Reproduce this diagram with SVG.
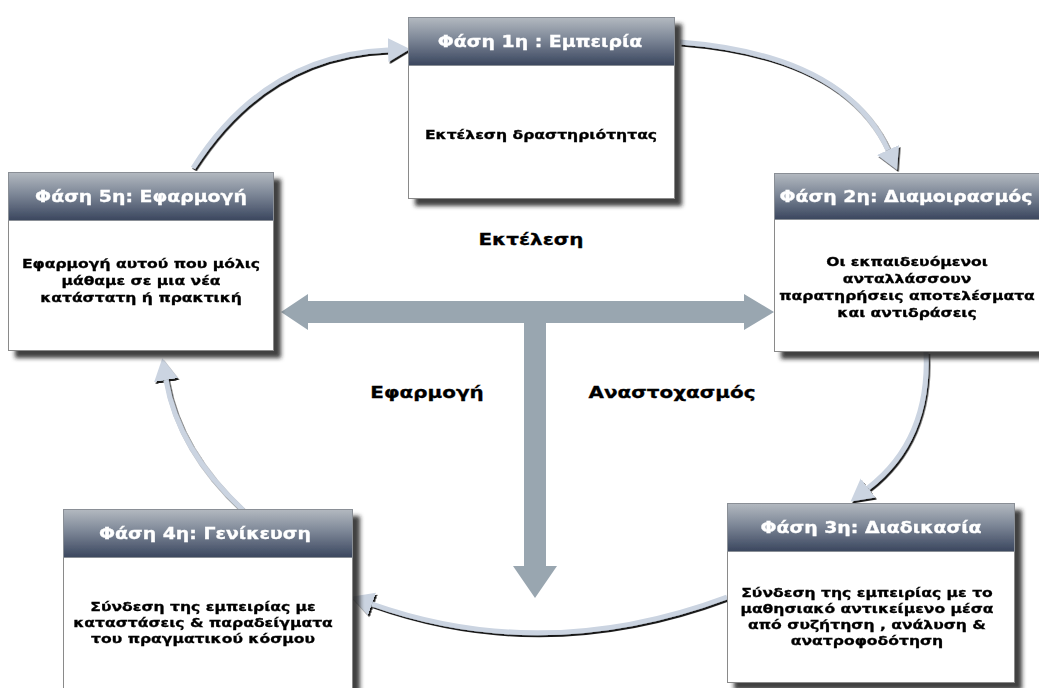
<svg xmlns="http://www.w3.org/2000/svg" width="1039" height="688" viewBox="0 0 1039 688">
  <defs>
    <linearGradient id="hdr" x1="0" y1="0" x2="0" y2="1">
      <stop offset="0" stop-color="#b3b9c0"/>
      <stop offset="0.45" stop-color="#7d8797"/>
      <stop offset="1" stop-color="#3a465e"/>
    </linearGradient>
    <filter id="boxShadow" x="-10%" y="-10%" width="125%" height="125%">
      <feDropShadow dx="7" dy="7" stdDeviation="2" flood-color="#1c1c1c" flood-opacity="0.85"/>
    </filter>
    <filter id="arcShadow" x="-20%" y="-20%" width="140%" height="140%">
      <feDropShadow dx="1.5" dy="2" stdDeviation="0.6" flood-color="#000" flood-opacity="0.9"/>
    </filter>
    <marker id="arcHead" markerUnits="userSpaceOnUse" markerWidth="24" markerHeight="26" viewBox="0 0 24 26" refX="0" refY="13" orient="auto">
      <path d="M0,1 L22,13 L0,25 Z" fill="#cbd4e1"/>
    </marker>
    <style>
      .hdr { fill: url(#hdr); stroke: #8a8f96; stroke-width: 1; }
      .body { fill: #ffffff; stroke: #8a8a8a; stroke-width: 1; }
      .title { font-family: "DejaVu Sans", Verdana, sans-serif; font-weight: bold; font-size: 15px; fill: #ffffff; stroke: #ffffff; stroke-width: 0.3; text-anchor: middle; }
      .txt { font-family: "DejaVu Sans", Verdana, sans-serif; font-weight: bold; font-size: 13px; fill: #000000; stroke: #000000; stroke-width: 0.3; text-anchor: middle; }
      .lbl { font-family: "DejaVu Sans", Verdana, sans-serif; font-weight: bold; font-size: 16.5px; fill: #000000; stroke: #000000; stroke-width: 0.3; text-anchor: middle; }
      .arc { fill: none; stroke: #cbd4e1; stroke-width: 5; marker-end: url(#arcHead); }
      .big { fill: #99a6b0; }
    </style>
  </defs>

  <rect width="1039" height="688" fill="#ffffff"/>

  <!-- central T-shaped arrow -->
  <g id="t-arrow">
    <path class="big" d="M281,312 L308,294 L308,301 L744,301 L744,294 L774,312 L744,330 L744,323 L546,323 L546,566 L557,566 L535,598 L513,566 L524,566 L524,323 L308,323 L308,330 Z"/>
  </g>

  <g id="labels">
    <text class="lbl" transform="translate(531,245) scale(1.21,1)">Εκτέλεση</text>
    <text class="lbl" transform="translate(427,398) scale(1.21,1)">Εφαρμογή</text>
    <text class="lbl" transform="translate(672,398) scale(1.21,1)">Αναστοχασμός</text>
  </g>

  <!-- cycle connectors -->
  <g id="connectors" filter="url(#arcShadow)">
    <path class="arc" d="M193,168 Q265,55 388,50"/>
    <path class="arc" d="M680,42 Q845,55 888,150"/>
    <path class="arc" d="M926,352 Q930,440 868,488"/>
    <path class="arc" d="M727,597 Q545,665 372,604"/>
    <path class="arc" d="M243,510 Q178,450 166,380"/>
  </g>

  <g id="phase1" filter="url(#boxShadow)">
    <rect class="body" x="408.5" y="17.5" width="266" height="181"/>
    <rect class="hdr" x="408.5" y="17.5" width="266" height="48"/>
    <text class="title" transform="translate(540,47) scale(1.26,1)">Φάση 1η : Εμπειρία</text>
    <text class="txt" transform="translate(541,139) scale(1.2,1)">Εκτέλεση δραστηριότητας</text>
  </g>

  <g id="phase2" filter="url(#boxShadow)">
    <rect class="body" x="774.5" y="173.5" width="266" height="178"/>
    <rect class="hdr" x="774.5" y="173.5" width="266" height="46"/>
    <text class="title" transform="translate(906,202) scale(1.26,1)">Φάση 2η: Διαμοιρασμός</text>
    <text class="txt" transform="translate(907,266) scale(1.2,1)">Οι εκπαιδευόμενοι</text>
    <text class="txt" transform="translate(907,283) scale(1.2,1)">ανταλλάσσουν</text>
    <text class="txt" transform="translate(907,300) scale(1.2,1)">παρατηρήσεις αποτελέσματα</text>
    <text class="txt" transform="translate(907,317) scale(1.2,1)">και αντιδράσεις</text>
  </g>

  <g id="phase3" filter="url(#boxShadow)">
    <rect class="body" x="727.5" y="503.5" width="287" height="179"/>
    <rect class="hdr" x="727.5" y="503.5" width="287" height="48"/>
    <text class="title" transform="translate(871,533) scale(1.26,1)">Φάση 3η: Διαδικασία</text>
    <text class="txt" transform="translate(867,597) scale(1.2,1)">Σύνδεση της εμπειρίας με το</text>
    <text class="txt" transform="translate(867,613) scale(1.2,1)">μαθησιακό αντικείμενο μέσα</text>
    <text class="txt" transform="translate(867,629) scale(1.2,1)">από συζήτηση , ανάλυση &amp;</text>
    <text class="txt" transform="translate(867,645) scale(1.2,1)">ανατροφοδότηση</text>
  </g>

  <g id="phase4" filter="url(#boxShadow)">
    <rect class="body" x="63.5" y="509.5" width="289" height="190"/>
    <rect class="hdr" x="63.5" y="509.5" width="289" height="48"/>
    <text class="title" transform="translate(205,539) scale(1.26,1)">Φάση 4η: Γενίκευση</text>
    <text class="txt" transform="translate(203,611) scale(1.2,1)">Σύνδεση της εμπειρίας με</text>
    <text class="txt" transform="translate(203,627) scale(1.2,1)">καταστάσεις &amp; παραδείγματα</text>
    <text class="txt" transform="translate(203,643) scale(1.2,1)">του πραγματικού κόσμου</text>
  </g>

  <g id="phase5" filter="url(#boxShadow)">
    <rect class="body" x="8.5" y="172.5" width="265" height="178"/>
    <rect class="hdr" x="8.5" y="172.5" width="265" height="48"/>
    <text class="title" transform="translate(141,202) scale(1.26,1)">Φάση 5η: Εφαρμογή</text>
    <text class="txt" transform="translate(141,268) scale(1.2,1)">Εφαρμογή αυτού που μόλις</text>
    <text class="txt" transform="translate(141,285) scale(1.2,1)">μάθαμε σε μια νέα</text>
    <text class="txt" transform="translate(141,302) scale(1.2,1)">κατάστατη ή πρακτική</text>
  </g>
</svg>
